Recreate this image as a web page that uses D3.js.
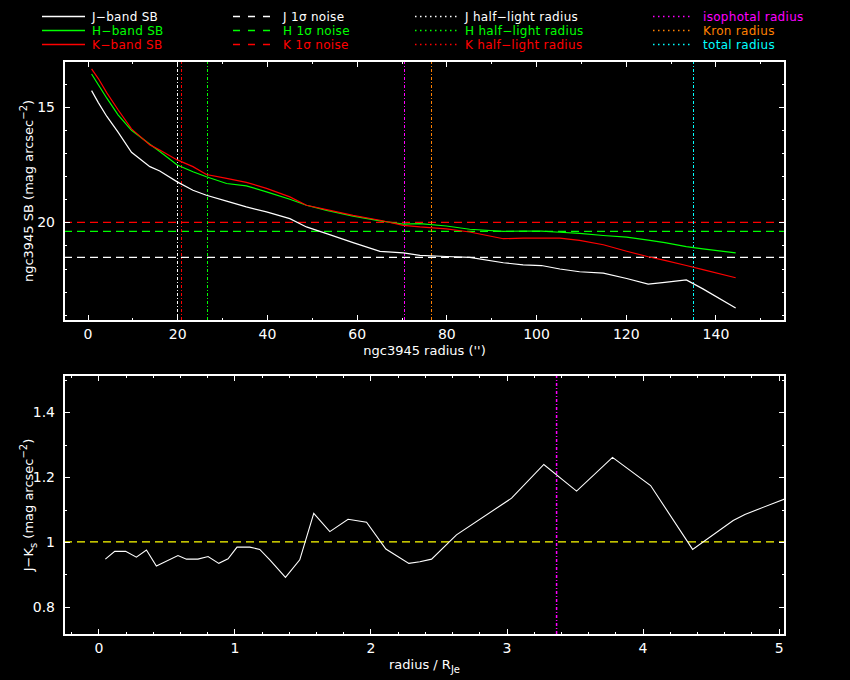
<!DOCTYPE html>
<html>
<head>
<meta charset="utf-8">
<script src="https://cdn.jsdelivr.net/npm/d3@7"></script>
<style>
  body { margin: 0; background: #000; }
  text { font-family: "DejaVu Sans", sans-serif; }
</style>
</head>
<body>
<div id="container"></div>
<script>
// surface brightness profiles (radius in arcsec, SB in mag/arcsec^2)
let radius = [0.9, 2.4, 4.3, 6.8, 9.8, 13.9, 16.1, 20.0, 23.5, 26.5, 31.0, 35.4, 39.9, 45.1, 48.8, 53.3, 59.2,
  65.2, 70.4, 74.1, 80.0, 85.2, 92.7, 97.1, 101.2, 105.3, 109.7, 115.0, 120.2, 125.0, 128.7, 133.5, 137.2, 144.5];
let sbJ = [14.30, 14.82, 15.42, 16.10, 16.97, 17.59, 17.78, 18.25, 18.61, 18.83, 19.08, 19.33, 19.55, 19.84, 20.20, 20.49, 20.88,
  21.26, 21.32, 21.43, 21.48, 21.52, 21.75, 21.84, 21.87, 22.02, 22.14, 22.20, 22.43, 22.67, 22.60, 22.49, 22.88, 23.71];
let sbH = [13.58, 14.05, 14.63, 15.35, 16.02, 16.62, 16.94, 17.52, 17.81, 18.03, 18.32, 18.42, 18.68, 19.00, 19.26, 19.48, 19.73,
  19.94, 20.08, 20.06, 20.16, 20.30, 20.39, 20.38, 20.38, 20.43, 20.48, 20.57, 20.64, 20.77, 20.88, 21.05, 21.15, 21.32];
let sbK = [13.36, 13.78, 14.40, 15.13, 15.96, 16.65, 16.87, 17.30, 17.59, 17.93, 18.10, 18.27, 18.53, 18.90, 19.26, 19.45, 19.70,
  19.91, 20.13, 20.20, 20.28, 20.42, 20.71, 20.68, 20.68, 20.68, 20.78, 20.97, 21.25, 21.49, 21.65, 21.87, 22.05, 22.40];

// 1 sigma noise levels
let noiseJ = 21.52;
let noiseH = 20.39;
let noiseK = 20.0;

// radii markers (arcsec)
let halfJ = 20.0;
let halfH = 26.7;
let halfK = 20.95;
let isoRadius = 70.6;
let kronRadius = 76.6;
let totalRadius = 135.0;

// colour profile: radius / R_Je and J-Ks
let rRe = [0.051, 0.12, 0.20, 0.279, 0.353, 0.426, 0.585, 0.647, 0.732, 0.806, 0.885, 0.953, 1.019, 1.113, 1.186, 1.260,
  1.375, 1.480, 1.583, 1.701, 1.835, 1.971, 2.113, 2.282, 2.363, 2.449, 2.632, 3.037, 3.274, 3.515, 3.779, 4.059,
  4.368, 4.666, 4.752, 5.06];
let jk = [0.947, 0.971, 0.971, 0.953, 0.975, 0.926, 0.958, 0.947, 0.947, 0.955, 0.934, 0.948, 0.984, 0.984, 0.977, 0.945,
  0.891, 0.945, 1.088, 1.032, 1.070, 1.061, 0.978, 0.934, 0.939, 0.947, 1.022, 1.135, 1.239, 1.157, 1.261, 1.174,
  0.977, 1.066, 1.085, 1.135];
let jkRef = 1.0;
let isoRe = 3.368;

// tick values
let xMajor1 = [0, 20, 40, 60, 80, 100, 120, 140];
let xMinor1 = [0, 10, 20, 30, 40, 50, 60, 70, 80, 90, 100, 110, 120, 130, 140, 150];
let yMajor1 = [15, 20];
let yMinor1 = [14, 15, 16, 17, 18, 19, 20, 21, 22, 23, 24];
let xMajor2 = [0, 1, 2, 3, 4, 5];
let xMinor2 = [-0.2, 0, 0.2, 0.4, 0.6, 0.8, 1, 1.2, 1.4, 1.6, 1.8, 2, 2.2, 2.4, 2.6, 2.8, 3, 3.2, 3.4, 3.6, 3.8, 4, 4.2, 4.4, 4.6, 4.8, 5];
let yMajor2 = [0.8, 1, 1.2, 1.4];
let yMinor2 = [0.8, 0.9, 1.0, 1.1, 1.2, 1.3, 1.4, 1.5];

let w = 850;
let h = 680;
let left = 64, right = 785;
let top1 = 61, bottom1 = 321;
let top2 = 375, bottom2 = 635;

let viz = d3.select("#container")
  .append("svg")
    .attr("width", w)
    .attr("height", h)
    .style("background", "#000")
;

let xScale1 = d3.scaleLinear().domain([-5.25, 155.5]).range([left, right]);
let yScale1 = d3.scaleLinear().domain([13.02, 24.27]).range([top1, bottom1]);
let xScale2 = d3.scaleLinear().domain([-0.253, 5.047]).range([left, right]);
let yScale2 = d3.scaleLinear().domain([0.713, 1.515]).range([bottom2, top2]);

viz.append("clipPath").attr("id", "clip1")
  .append("rect").attr("x", left).attr("y", top1).attr("width", right - left).attr("height", bottom1 - top1);
viz.append("clipPath").attr("id", "clip2")
  .append("rect").attr("x", left).attr("y", top2).attr("width", right - left).attr("height", bottom2 - top2);

function drawAxes(xs, ys, top, bottom, xMaj, xMin, yMaj, yMin, xFmt, yFmt){
  function styleIt(g, showText){
    g.select(".domain").remove();
    g.selectAll("line").attr("stroke", "#fff").attr("shape-rendering", "crispEdges");
    if(showText){
      g.selectAll("text").attr("fill", "#fff").attr("font-size", "14px");
    } else {
      g.selectAll("text").remove();
    }
  }
  // bottom
  viz.append("g").attr("transform", "translate(0," + bottom + ")")
    .call(d3.axisBottom(xs).tickValues(xMin).tickSize(-3)).call(styleIt, false);
  viz.append("g").attr("transform", "translate(0," + bottom + ")")
    .call(d3.axisBottom(xs).tickValues(xMaj).tickSize(-6).tickPadding(8).tickFormat(xFmt)).call(styleIt, true);
  // top
  viz.append("g").attr("transform", "translate(0," + top + ")")
    .call(d3.axisTop(xs).tickValues(xMin).tickSize(-3)).call(styleIt, false);
  viz.append("g").attr("transform", "translate(0," + top + ")")
    .call(d3.axisTop(xs).tickValues(xMaj).tickSize(-6)).call(styleIt, false);
  // left
  viz.append("g").attr("transform", "translate(" + left + ",0)")
    .call(d3.axisLeft(ys).tickValues(yMin).tickSize(-3)).call(styleIt, false);
  viz.append("g").attr("transform", "translate(" + left + ",0)")
    .call(d3.axisLeft(ys).tickValues(yMaj).tickSize(-6).tickPadding(9).tickFormat(yFmt)).call(styleIt, true);
  // right
  viz.append("g").attr("transform", "translate(" + right + ",0)")
    .call(d3.axisRight(ys).tickValues(yMin).tickSize(-3)).call(styleIt, false);
  viz.append("g").attr("transform", "translate(" + right + ",0)")
    .call(d3.axisRight(ys).tickValues(yMaj).tickSize(-6)).call(styleIt, false);

  viz.append("rect")
    .attr("x", left).attr("y", top)
    .attr("width", right - left).attr("height", bottom - top)
    .attr("fill", "none").attr("stroke", "#fff").attr("stroke-width", 1.2)
    .attr("shape-rendering", "crispEdges");
}

// ---------- top panel ----------
let g1 = viz.append("g").attr("clip-path", "url(#clip1)");

let noiseLines = [
  {v: noiseJ, c: "#ffffff"},
  {v: noiseH, c: "#00ff00"},
  {v: noiseK, c: "#ff0000"}
];
g1.selectAll(".noise").data(noiseLines).enter()
  .append("line")
    .attr("class", "noise")
    .attr("x1", left).attr("x2", right)
    .attr("y1", function(d){ return yScale1(d.v) })
    .attr("y2", function(d){ return yScale1(d.v) })
    .attr("stroke", function(d){ return d.c })
    .attr("stroke-dasharray", "8,5")
    .attr("stroke-width", 1.2)
;

let radLines = [
  {v: halfJ, c: "#ffffff"},
  {v: halfK, c: "#ff0000"},
  {v: halfH, c: "#00ff00"},
  {v: isoRadius, c: "#ff00ff"},
  {v: kronRadius, c: "#ff8000"},
  {v: totalRadius, c: "#00ffff"}
];
g1.selectAll(".rad").data(radLines).enter()
  .append("line")
    .attr("class", "rad")
    .attr("y1", top1).attr("y2", bottom1)
    .attr("x1", function(d){ return xScale1(d.v) })
    .attr("x2", function(d){ return xScale1(d.v) })
    .attr("stroke", function(d){ return d.c })
    .attr("stroke-dasharray", "3,2,1,2")
    .attr("shape-rendering", "crispEdges")
;

let profiles = [
  {vals: sbJ, c: "#ffffff"},
  {vals: sbH, c: "#00ff00"},
  {vals: sbK, c: "#ff0000"}
];
let line1 = d3.line()
  .x(function(d){ return xScale1(d[0]) })
  .y(function(d){ return yScale1(d[1]) });

g1.selectAll(".profile").data(profiles).enter()
  .append("path")
    .attr("class", "profile")
    .attr("d", function(d){ return line1(radius.map(function(r, i){ return [r, d.vals[i]] })) })
    .attr("fill", "none")
    .attr("stroke", function(d){ return d.c })
    .attr("stroke-width", 1.2)
;

drawAxes(xScale1, yScale1, top1, bottom1, xMajor1, xMinor1, yMajor1, yMinor1, d3.format("d"), d3.format("d"));

viz.append("text")
  .attr("x", (left + right) / 2).attr("y", 355)
  .attr("text-anchor", "middle").attr("fill", "#fff").attr("font-size", "13px")
  .text("ngc3945 radius ('')");

let yl1 = viz.append("text")
  .attr("transform", "translate(33," + ((top1 + bottom1) / 2) + ") rotate(-90)")
  .attr("text-anchor", "middle").attr("fill", "#fff").attr("font-size", "13px");
yl1.append("tspan").text("ngc3945 SB (mag arcsec");
yl1.append("tspan").attr("dy", -6).attr("font-size", "10px").text("\u22122");
yl1.append("tspan").attr("dy", 6).text(")");

// ---------- bottom panel ----------
let g2 = viz.append("g").attr("clip-path", "url(#clip2)");

g2.append("line")
  .attr("x1", left).attr("x2", right)
  .attr("y1", yScale2(jkRef)).attr("y2", yScale2(jkRef))
  .attr("stroke", "#ffff00")
  .attr("stroke-dasharray", "8,5")
  .attr("stroke-width", 1.2);

g2.append("line")
  .attr("x1", xScale2(isoRe)).attr("x2", xScale2(isoRe))
  .attr("y1", top2).attr("y2", bottom2)
  .attr("stroke", "#ff00ff")
  .attr("stroke-dasharray", "3,2,1,2")
  .attr("stroke-width", 1.5);

let line2 = d3.line()
  .x(function(d){ return xScale2(d[0]) })
  .y(function(d){ return yScale2(d[1]) });

g2.append("path")
  .attr("d", line2(rRe.map(function(r, i){ return [r, jk[i]] })))
  .attr("fill", "none")
  .attr("stroke", "#fff")
  .attr("stroke-width", 1.1);

drawAxes(xScale2, yScale2, top2, bottom2, xMajor2, xMinor2, yMajor2, yMinor2, d3.format("d"), function(d){ return d3.format("")(+d.toFixed(1)) });

let xl2 = viz.append("text")
  .attr("x", (left + right) / 2).attr("y", 669)
  .attr("text-anchor", "middle").attr("fill", "#fff").attr("font-size", "13px");
xl2.append("tspan").text("radius / R");
xl2.append("tspan").attr("dy", 4).attr("font-size", "10px").text("Je");

let yl2 = viz.append("text")
  .attr("transform", "translate(33," + ((top2 + bottom2) / 2) + ") rotate(-90)")
  .attr("text-anchor", "middle").attr("fill", "#fff").attr("font-size", "13px");
yl2.append("tspan").text("J\u2212K");
yl2.append("tspan").attr("dy", 4).attr("font-size", "10px").text("s");
yl2.append("tspan").attr("dy", -4).text(" (mag arcsec");
yl2.append("tspan").attr("dy", -6).attr("font-size", "10px").text("\u22122");
yl2.append("tspan").attr("dy", 6).text(")");

// ---------- legend ----------
let legendRows = [16.5, 30.5, 44.5];
let legendItems = [
  {x1: 42, x2: 85, tx: 92, row: 0, c: "#ffffff", dash: null, label: "J\u2212band SB"},
  {x1: 42, x2: 85, tx: 92, row: 1, c: "#00ff00", dash: null, label: "H\u2212band SB"},
  {x1: 42, x2: 85, tx: 92, row: 2, c: "#ff0000", dash: null, label: "K\u2212band SB"},
  {x1: 233, x2: 277, tx: 283, row: 0, c: "#ffffff", dash: "7,8", label: "J 1\u03c3 noise"},
  {x1: 233, x2: 277, tx: 283, row: 1, c: "#00ff00", dash: "7,8", label: "H 1\u03c3 noise"},
  {x1: 233, x2: 277, tx: 283, row: 2, c: "#ff0000", dash: "7,8", label: "K 1\u03c3 noise"},
  {x1: 415, x2: 457, tx: 465, row: 0, c: "#ffffff", dash: "1.5,3.5", label: "J half\u2212light radius"},
  {x1: 415, x2: 457, tx: 465, row: 1, c: "#00ff00", dash: "1.5,3.5", label: "H half\u2212light radius"},
  {x1: 415, x2: 457, tx: 465, row: 2, c: "#ff0000", dash: "1.5,3.5", label: "K half\u2212light radius"},
  {x1: 653, x2: 693, tx: 703, row: 0, c: "#ff00ff", dash: "1.5,3.5", label: "isophotal radius"},
  {x1: 653, x2: 693, tx: 703, row: 1, c: "#ff8000", dash: "1.5,3.5", label: "Kron radius"},
  {x1: 653, x2: 693, tx: 703, row: 2, c: "#00ffff", dash: "1.5,3.5", label: "total radius"}
];

let legend = viz.append("g").attr("class", "legend");
let items = legend.selectAll(".item").data(legendItems).enter()
  .append("g").attr("class", "item");
items.append("line")
  .attr("x1", function(d){ return d.x1 })
  .attr("x2", function(d){ return d.x2 })
  .attr("y1", function(d){ return legendRows[d.row] })
  .attr("y2", function(d){ return legendRows[d.row] })
  .attr("stroke", function(d){ return d.c })
  .attr("stroke-width", 1.3)
  .attr("stroke-dasharray", function(d){ return d.dash })
;
items.append("text")
  .attr("x", function(d){ return d.tx })
  .attr("y", function(d){ return legendRows[d.row] + 4.3 })
  .attr("fill", function(d){ return d.c })
  .attr("font-size", "12px")
  .attr("letter-spacing", "0.3px")
  .text(function(d){ return d.label })
;
</script>
</body>
</html>
